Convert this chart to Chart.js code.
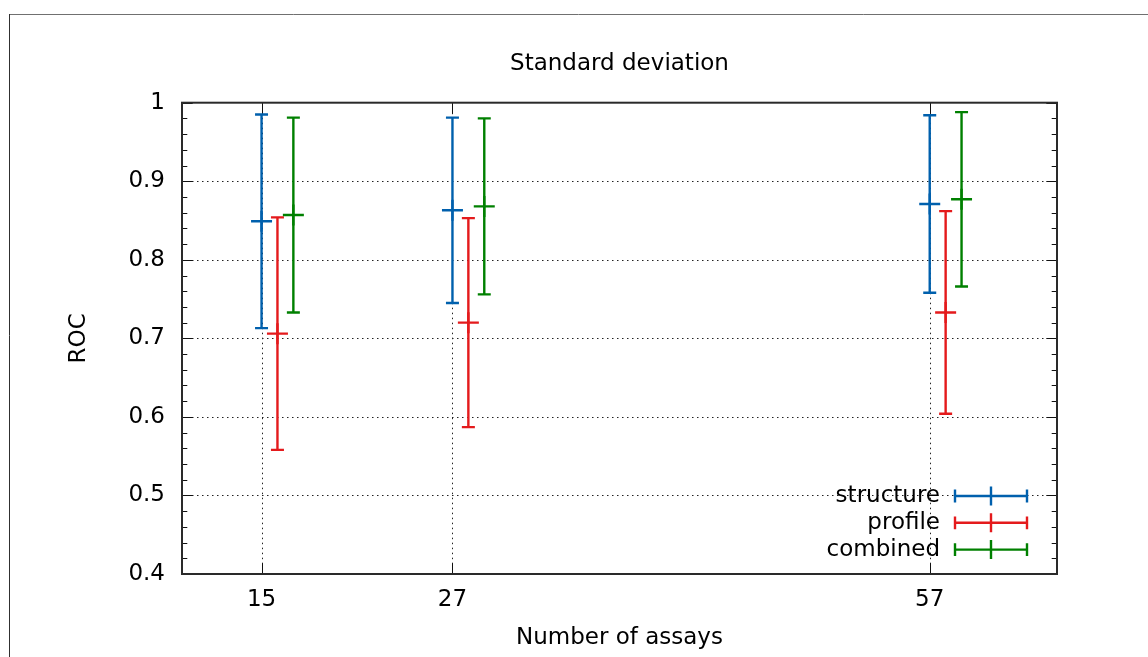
<!DOCTYPE html>
<html><head><meta charset="utf-8">
<script src="https://cdn.jsdelivr.net/npm/chart.js@4.4.0/dist/chart.umd.min.js"></script>
<style>html,body{margin:0;padding:0;background:#fff;} canvas{display:block;}</style>
</head><body>
<canvas id="c" width="1148" height="657"></canvas>
<script>
// ---- data ----
const assays = [15, 27, 57];
const seriesNames = ['structure', 'profile', 'combined'];
const seriesOffset = [0, 1, 2];           // x shift (in assay units) of each series
const structureMean = [0.849, 0.863, 0.871];
const structureSd   = [0.136, 0.118, 0.113];
const profileMean   = [0.706, 0.720, 0.733];
const profileSd     = [0.148, 0.133, 0.129];
const combinedMean  = [0.857, 0.868, 0.877];
const combinedSd    = [0.124, 0.112, 0.111];
const xTickValues = [15, 27, 57];
const yTickValues = [0.4, 0.5, 0.6, 0.7, 0.8, 0.9, 1];
const seriesColors = ['#0060ad', '#e41a1c', '#008000'];

const FONT = 'DejaVu Sans';
Chart.defaults.font.family = FONT;
Chart.defaults.font.size = 23;
Chart.defaults.color = '#000';

function makeData(means, sds, off) {
  return assays.map((a, i) => ({ x: a + off, y: means[i], yMin: means[i] - sds[i], yMax: means[i] + sds[i] }));
}
const allMeans = [structureMean, profileMean, combinedMean];
const allSds = [structureSd, profileSd, combinedSd];
const datasets = seriesNames.map((n, i) => ({
  label: n,
  data: makeData(allMeans[i], allSds[i], seriesOffset[i]),
  borderColor: seriesColors[i],
  backgroundColor: seriesColors[i],
  pointStyle: 'cross',
  pointRadius: 10.5,
  pointHoverRadius: 10.5,
  pointBorderWidth: 2.4,
  pointHoverBorderWidth: 2.4,
  showLine: false
}));

const framePlugin = {
  id: 'frame',
  afterLayout(chart) {
    // centre the title over the plot area
    if (chart.titleBlock) {
      chart.titleBlock.left = chart.chartArea.left;
      chart.titleBlock.right = chart.chartArea.right;
    }
  },
  afterDraw(chart) {
    const ctx = chart.ctx;
    ctx.save();
    ctx.lineWidth = 1;
    ctx.strokeStyle = '#707070';
    ctx.beginPath(); ctx.moveTo(9, 14.5); ctx.lineTo(chart.width, 14.5); ctx.stroke();
    ctx.strokeStyle = '#303030';
    ctx.beginPath(); ctx.moveTo(9.5, 14); ctx.lineTo(9.5, chart.height); ctx.stroke();
    ctx.restore();
  }
};

const axesPlugin = {
  id: 'axesDeco',
  beforeDatasetsDraw(chart) {
    const { ctx, chartArea: a, scales: { x, y } } = chart;
    ctx.save();
    // dotted grid
    ctx.strokeStyle = '#222';
    ctx.lineWidth = 1;
    ctx.setLineDash([1.5, 3.5]);
    yTickValues.forEach(v => {
      if (v <= y.min || v >= y.max) return;
      const py = Math.round(y.getPixelForValue(v)) + 0.5;
      ctx.beginPath(); ctx.moveTo(a.left, py); ctx.lineTo(a.right, py); ctx.stroke();
    });
    xTickValues.forEach(v => {
      const px = Math.round(x.getPixelForValue(v)) + 0.5;
      ctx.beginPath(); ctx.moveTo(px, a.top); ctx.lineTo(px, a.bottom); ctx.stroke();
    });
    ctx.setLineDash([]);
    // tick marks
    ctx.strokeStyle = '#111';
    const major = 10.7, minor = 5.3;
    for (let i = 0; i <= 30; i++) {
      const v = y.min + i * (y.max - y.min) / 30;
      const py = Math.round(y.getPixelForValue(v)) + 0.5;
      const len = (i % 5 === 0) ? major : minor;
      ctx.beginPath();
      ctx.moveTo(a.left, py); ctx.lineTo(a.left + len, py);
      ctx.moveTo(a.right, py); ctx.lineTo(a.right - len, py);
      ctx.stroke();
    }
    xTickValues.forEach(v => {
      const px = Math.round(x.getPixelForValue(v)) + 0.5;
      ctx.beginPath();
      ctx.moveTo(px, a.bottom); ctx.lineTo(px, a.bottom - major);
      ctx.moveTo(px, a.top); ctx.lineTo(px, a.top + major);
      ctx.stroke();
    });
    // plot border
    ctx.lineWidth = 2;
    ctx.strokeStyle = '#2a2a2a';
    ctx.strokeRect(a.left, a.top, a.right - a.left, a.bottom - a.top);
    // error bars
    chart.data.datasets.forEach((ds) => {
      ctx.strokeStyle = ds.borderColor;
      ctx.lineWidth = 2.4;
      ds.data.forEach(p => {
        const px = x.getPixelForValue(p.x);
        const yt = y.getPixelForValue(p.yMax);
        const yb = y.getPixelForValue(p.yMin);
        ctx.beginPath();
        ctx.moveTo(px, yt); ctx.lineTo(px, yb);
        ctx.moveTo(px - 6.5, yt); ctx.lineTo(px + 6.5, yt);
        ctx.moveTo(px - 6.5, yb); ctx.lineTo(px + 6.5, yb);
        ctx.stroke();
      });
    });
    ctx.restore();
  }
};

const legendPlugin = {
  id: 'ebLegend',
  afterDatasetsDraw(chart) {
    const { ctx, chartArea: a } = chart;
    ctx.save();
    ctx.font = '23px "' + FONT + '"';
    ctx.textAlign = 'right';
    ctx.textBaseline = 'middle';
    chart.data.datasets.forEach((ds, i) => {
      const ry = a.bottom - 78 + i * 26.8;
      ctx.fillStyle = '#000';
      ctx.fillText(ds.label, a.right - 117, ry);
      const x0 = a.right - 102, x1 = a.right - 30, xm = (x0 + x1) / 2;
      ctx.strokeStyle = ds.borderColor;
      ctx.lineWidth = 2.4;
      ctx.beginPath();
      ctx.moveTo(x0, ry); ctx.lineTo(x1, ry);
      ctx.moveTo(x0, ry - 6.4); ctx.lineTo(x0, ry + 6.4);
      ctx.moveTo(x1, ry - 6.4); ctx.lineTo(x1, ry + 6.4);
      ctx.moveTo(xm, ry - 9.5); ctx.lineTo(xm, ry + 9.5);
      ctx.stroke();
    });
    ctx.restore();
  }
};

new Chart(document.getElementById('c'), {
  type: 'scatter',
  data: { datasets },
  options: {
    responsive: false,
    animation: false,
    devicePixelRatio: 1,
    layout: { padding: { left: 0, right: 91, top: 0, bottom: 0 } },
    plugins: {
      legend: { display: false },
      tooltip: { enabled: false },
      title: {
        display: true, text: 'Standard deviation', color: '#000',
        font: { size: 23, family: FONT, weight: 'normal' },
        padding: { top: 50.5, bottom: 24.6 }
      }
    },
    scales: {
      x: {
        type: 'linear', min: 10, max: 65,
        afterBuildTicks: s => { s.ticks = xTickValues.map(v => ({ value: v })); },
        afterFit: s => { s.height = 83; },
        grid: { display: false, drawTicks: false },
        border: { display: false },
        ticks: { color: '#000', padding: 12.2, font: { size: 23 }, maxRotation: 0, callback: v => String(v) },
        title: { display: true, text: 'Number of assays', color: '#000', font: { size: 23 }, padding: { top: 0, bottom: 4.7 } }
      },
      y: {
        type: 'linear', min: 0.4, max: 1,
        afterBuildTicks: s => { s.ticks = yTickValues.map(v => ({ value: v })); },
        afterFit: s => { s.width = 182; },
        grid: { display: false, drawTicks: false },
        border: { display: false },
        ticks: { color: '#000', padding: 17, font: { size: 23 }, callback: v => String(v) },
        title: { display: true, text: 'ROC', color: '#000', font: { size: 23 }, padding: { top: 65.5, bottom: 0 } }
      }
    }
  },
  plugins: [framePlugin, axesPlugin, legendPlugin]
});
</script>
</body></html>
